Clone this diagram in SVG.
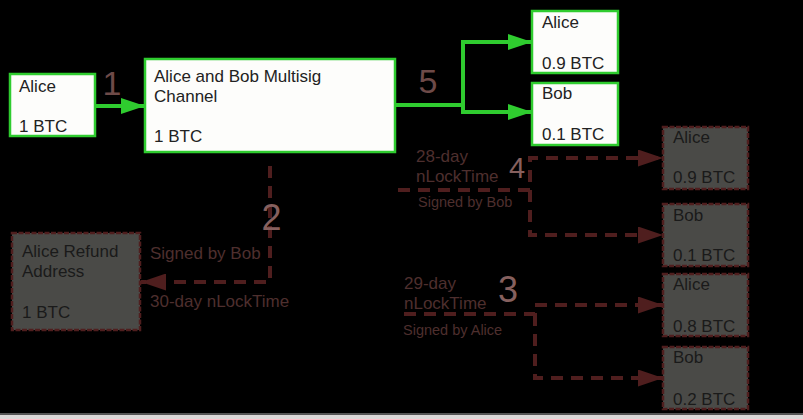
<svg xmlns="http://www.w3.org/2000/svg" width="803" height="419" viewBox="0 0 803 419">
<style>
.t{font-family:"Liberation Sans",Arial,sans-serif;font-size:17px;fill:#222}
.g{fill:#fdfdfb;stroke:#2fcc2f;stroke-width:2.5}
.d{fill:#4a4a47;stroke:#4f1e1e;stroke-width:2.5;stroke-dasharray:5 1.5}
.dt{font-family:"Liberation Sans",Arial,sans-serif;font-size:17px;fill:#1a1a1a}
.lab{font-family:"Liberation Sans",Arial,sans-serif;font-size:17px;fill:#4e2f2e}
.sm{font-size:14.5px}
.num{font-family:"Liberation Sans",Arial,sans-serif;fill:#86605e;text-anchor:middle}
.num2{fill:#6e4a48}
.gl{fill:none;stroke:#2fcc2f;stroke-width:4}
.dl{fill:none;stroke:#4f1e1e;stroke-width:4;stroke-dasharray:12 8}
</style>
<defs>
<marker id="ga" markerUnits="userSpaceOnUse" markerWidth="24" markerHeight="16" refX="24" refY="8" orient="auto"><path d="M0,0 L24,8 L0,16 z" fill="#2fcc2f"/></marker>
<marker id="da" markerUnits="userSpaceOnUse" markerWidth="25" markerHeight="17" refX="25" refY="8.5" orient="auto"><path d="M0,0 L25,8.5 L0,17 z" fill="#4f1e1e"/></marker>
</defs>
<rect width="803" height="419" fill="#000"/>
<rect x="0" y="413" width="803" height="2" fill="#555"/>
<rect x="0" y="415" width="803" height="4" fill="#dcd8d8"/>

<g id="connectors">
<line class="gl" x1="95" y1="106" x2="145" y2="106" marker-end="url(#ga)"/>
<path class="gl" d="M395,105 H463"/>
<path class="gl" d="M463,105 V42 H532" marker-end="url(#ga)"/>
<path class="gl" d="M463,105 V112 H532" marker-end="url(#ga)"/>
<path class="dl" d="M270,166 V282 H141" marker-end="url(#da)"/>
<path class="dl" d="M398,190 H530 V158 H663" marker-end="url(#da)"/>
<path class="dl" d="M530,190 V235 H663" marker-end="url(#da)"/>
<path class="dl" d="M404,314 H535 V305 H663" marker-end="url(#da)"/>
<path class="dl" d="M535,314 V378 H663" marker-end="url(#da)"/>
</g>

<g id="labels">
<text class="num num2" x="112" y="95" font-size="34">1</text>
<text class="num num2" x="428" y="93" font-size="34">5</text>
<text class="num" x="271.5" y="230" font-size="36">2</text>
<text class="num" x="517" y="178" font-size="29">4</text>
<text class="num" x="508" y="302" font-size="36">3</text>
<text class="lab" x="150" y="259">Signed by Bob</text>
<text class="lab" x="150" y="307">30-day nLockTime</text>
<text class="lab" x="416" y="162">28-day</text>
<text class="lab" x="416" y="182">nLockTime</text>
<text class="lab sm" x="418" y="207">Signed by Bob</text>
<text class="lab" x="404" y="289">29-day</text>
<text class="lab" x="404" y="309">nLockTime</text>
<text class="lab sm" x="403" y="335">Signed by Alice</text>
</g>

<g id="alice">
<rect class="g" x="10" y="74" width="85" height="62"/>
<text class="t" x="19" y="92">Alice</text>
<text class="t" x="19" y="132">1 BTC</text>
</g>
<g id="multisig">
<rect class="g" x="145" y="59" width="250" height="93"/>
<text class="t" x="154" y="82">Alice and Bob Multisig</text>
<text class="t" x="154" y="102">Channel</text>
<text class="t" x="154" y="142">1 BTC</text>
</g>
<g id="alice-09">
<rect class="g" x="532" y="11" width="86" height="62"/>
<text class="t" x="542" y="28">Alice</text>
<text class="t" x="542" y="69">0.9 BTC</text>
</g>
<g id="bob-01">
<rect class="g" x="532" y="83" width="86" height="62"/>
<text class="t" x="542" y="99">Bob</text>
<text class="t" x="542" y="140">0.1 BTC</text>
</g>
<g id="refund">
<rect class="d" x="12" y="233" width="128" height="97"/>
<text class="dt" x="22" y="257">Alice Refund</text>
<text class="dt" x="22" y="277">Address</text>
<text class="dt" x="22" y="318">1 BTC</text>
</g>
<g id="alice-09-commit">
<rect class="d" x="663" y="127" width="85" height="62"/>
<text class="dt" x="673" y="143">Alice</text>
<text class="dt" x="673" y="183">0.9 BTC</text>
</g>
<g id="bob-01-commit">
<rect class="d" x="663" y="204" width="85" height="62"/>
<text class="dt" x="673" y="221">Bob</text>
<text class="dt" x="673" y="261">0.1 BTC</text>
</g>
<g id="alice-08-commit">
<rect class="d" x="663" y="274" width="85" height="62"/>
<text class="dt" x="673" y="290">Alice</text>
<text class="dt" x="673" y="332">0.8 BTC</text>
</g>
<g id="bob-02-commit">
<rect class="d" x="663" y="347" width="85" height="62"/>
<text class="dt" x="673" y="363">Bob</text>
<text class="dt" x="673" y="405">0.2 BTC</text>
</g>
</svg>
